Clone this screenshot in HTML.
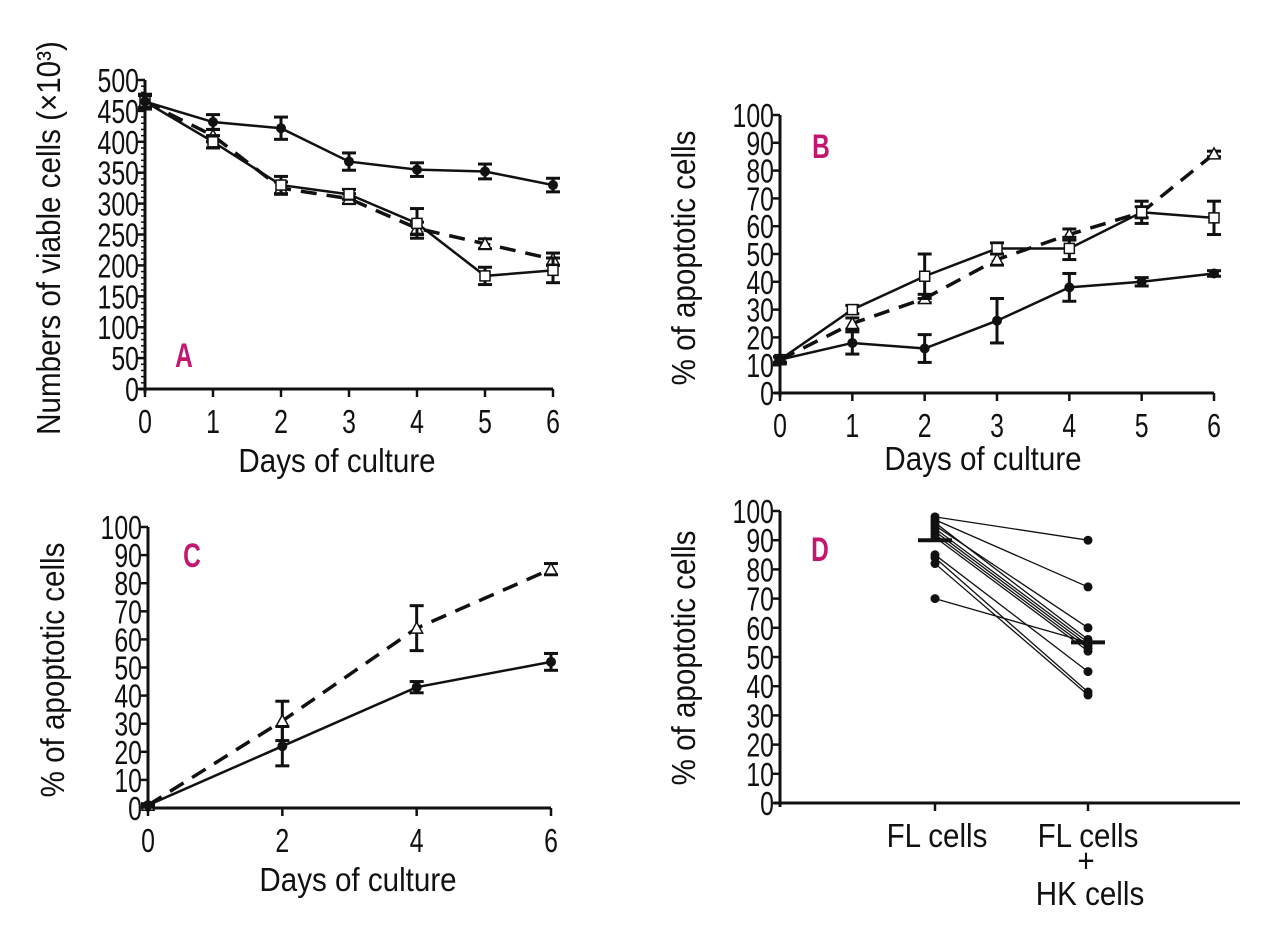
<!DOCTYPE html>
<html><head><meta charset="utf-8"><style>
html,body{margin:0;padding:0;background:#fff;}
svg{display:block;}
text{font-family:"Liberation Sans Narrow","Liberation Sans",sans-serif;fill:#111;}
.tick{font-size:27px;}
.title{font-size:30.5px;}
.letter{font-family:"Liberation Sans",sans-serif;font-weight:bold;font-size:34px;fill:#c2166f;}
</style></head><body>
<svg id="fig" width="1280" height="925" viewBox="0 0 1280 925" xmlns="http://www.w3.org/2000/svg"></svg>
<script>
// Panel A data
const daysA = [0,1,2,3,4,5,6];
const aCircle = [465,432,422,368,355,352,330];
const aCircleErr = [12,12,18,14,11,12,11];
const aSquare = [465,400,330,315,268,183,192];
const aSquareErr = [10,10,14,8,24,14,20];
const aTri = [465,410,325,308,260,235,210];
const aTriErr = [10,10,10,8,10,8,10];
const aTicks = [0,50,100,150,200,250,300,350,400,450,500];
// Panel B data
const daysB = [0,1,2,3,4,5,6];
const bCircle = [12,18,16,26,38,40,43];
const bCircleErr = [1,4,5,8,5,1.5,1];
const bSquare = [12,30,42,52,52,65,63];
const bSquareErr = [1,1.5,8,2,4,4,6];
const bTri = [12,25,34,48,57,65,86];
const bTriErr = [1,2,1.5,2,2,2,1];
// Panel C data
const daysC = [0,2,4,6];
const cCircle = [1,22,43,52];
const cCircleErr = [0.5,7,2,3];
const cTri = [1,31,64,85];
const cTriErr = [0.5,7,8,2];
const pctTicks = [0,10,20,30,40,50,60,70,80,90,100];
// Panel D data
const dGroups = ["FL cells","FL cells + HK cells"];
const dFL = [98,97,96,95,94,93,92,91,85,84,82,70];
const dHK = [90,74,56,60,55,54,53,52,45,38,37,55];
const dMeans = [90,55];

const NS="http://www.w3.org/2000/svg";
const svg=document.getElementById('fig');
const SCALE={tick:[0.92,1.25],title:[0.97,1.08],letter:[0.72,1.0]};
function el(tag,attrs,parent){const e=document.createElementNS(NS,tag);for(const k in attrs)e.setAttribute(k,attrs[k]);(parent||svg).appendChild(e);return e;}
function txt(parent,x,y,anchor,str,cls,name,rot){
  const s=SCALE[cls];
  const tr=`translate(${x} ${y})`+(rot?' rotate(-90)':'')+` scale(${s[0]} ${s[1]})`;
  const t=el('text',{x:0,y:0,'text-anchor':anchor,class:cls,transform:tr},parent);
  
  
  t.textContent=str;return t;
}

function axes(p){
  const g=el('g',{});
  
  
  const sx=v=>p.x0+(v-p.xmin)/(p.xmax-p.xmin)*(p.x1-p.x0);
  const sy=v=>p.y0-(v-p.ymin)/(p.ymax-p.ymin)*(p.y0-p.y1);
  const ya=el('line',{x1:p.x0,y1:p.y0+4,x2:p.x0,y2:p.y1,stroke:'#111','stroke-width':3},g);
  
  const xa=el('line',{x1:p.x0-6,y1:p.y0,x2:p.xEnd||p.x1,y2:p.y0,stroke:'#111','stroke-width':3},g);
  
  p.yticks.forEach(v=>{
    el('line',{x1:p.x0-7,y1:sy(v),x2:p.x0,y2:sy(v),stroke:'#111','stroke-width':2.5},g);
    txt(g,p.x0-6,sy(v)+12,'end',String(v),'tick','y-tick-label');
  });
  if(p.minor){for(let v=p.ymin;v<=p.ymax;v+=p.minor){el('line',{x1:p.x0-4,y1:sy(v),x2:p.x0,y2:sy(v),stroke:'#111','stroke-width':1.5},g);}}
  (p.xticks||[]).forEach(v=>{
    el('line',{x1:sx(v),y1:p.y0,x2:sx(v),y2:p.y0+8,stroke:'#111','stroke-width':2.5},g);
    txt(g,sx(v),p.y0+44,'middle',String(v),'tick','x-tick-label');
  });
  return {g,sx,sy};
}
function series(ax,xs,ys,errs,marker,dashed,name){
  const g=el('g',{},ax.g);
  
  const pts=xs.map((x,i)=>ax.sx(x)+','+ax.sy(ys[i])).join(' ');
  const pl=el('polyline',{points:pts,fill:'none',stroke:'#111','stroke-width':dashed?3.5:2.5,'stroke-dasharray':dashed?'16 10':'none'},g);
  
  xs.forEach((x,i)=>{
    const cx=ax.sx(x),cy=ax.sy(ys[i]);
    if(errs){const e=errs[i];const ya=ax.sy(ys[i]+e),yb=ax.sy(ys[i]-e);
      el('line',{x1:cx,y1:ya,x2:cx,y2:yb,stroke:'#111','stroke-width':3},g);
      el('line',{x1:cx-7,y1:ya,x2:cx+7,y2:ya,stroke:'#111','stroke-width':3},g);
      el('line',{x1:cx-7,y1:yb,x2:cx+7,y2:yb,stroke:'#111','stroke-width':3},g);}
    let m;
    if(marker==='circle')m=el('circle',{cx,cy,r:5,fill:'#111'},g);
    else if(marker==='square')m=el('rect',{x:cx-5,y:cy-5,width:10,height:10,fill:'#fff',stroke:'#111','stroke-width':1.5},g);
    else m=el('polygon',{points:`${cx},${cy-6} ${cx-6},${cy+5} ${cx+6},${cy+5}`,fill:'#fff',stroke:'#111','stroke-width':1.5},g);
    
  });
}
function label(x,y,s,cls,name,rot){return txt(svg,x,y,'middle',s,cls,name,rot);}

// Panel A
const A=axes({name:'panel-a',x0:145,x1:553,y0:389,y1:80,xmin:0,xmax:6,ymin:0,ymax:500,yticks:aTicks,xticks:daysA,minor:10});
series(A,daysA,aTri,aTriErr,'tri',true,'a-triangle-series');
series(A,daysA,aSquare,aSquareErr,'square',false,'a-square-series');
series(A,daysA,aCircle,aCircleErr,'circle',false,'a-circle-series');
label(337,472,'Days of culture','title','a-x-axis-title');
label(60,238,'Numbers of viable cells (×10³)','title','a-y-axis-title',true);
label(184,367,'A','letter','panel-a-letter');

// Panel B
const B=axes({name:'panel-b',x0:780,x1:1214,y0:393,y1:115,xmin:0,xmax:6,ymin:0,ymax:100,yticks:pctTicks,xticks:daysB});
series(B,daysB,bTri,bTriErr,'tri',true,'b-triangle-series');
series(B,daysB,bSquare,bSquareErr,'square',false,'b-square-series');
series(B,daysB,bCircle,bCircleErr,'circle',false,'b-circle-series');
label(983,470,'Days of culture','title','b-x-axis-title');
label(695,258,'% of apoptotic cells','title','b-y-axis-title',true);
label(821,158,'B','letter','panel-b-letter');

// Panel C
const C=axes({name:'panel-c',x0:148,x1:551,y0:808,y1:527,xmin:0,xmax:6,ymin:0,ymax:100,yticks:pctTicks,xticks:daysC});
series(C,daysC,cTri,cTriErr,'tri',true,'c-triangle-series');
series(C,daysC,cCircle,cCircleErr,'circle',false,'c-circle-series');
label(358,891,'Days of culture','title','c-x-axis-title');
label(64,670,'% of apoptotic cells','title','c-y-axis-title',true);
label(192,567,'C','letter','panel-c-letter');

// Panel D
const D=axes({name:'panel-d',x0:780,x1:1240,xEnd:1240,y0:803,y1:511,xmin:0,xmax:1,ymin:0,ymax:100,yticks:pctTicks,xticks:[]});
const dx=[935,1088];
dx.forEach(x=>el('line',{x1:x,y1:803,x2:x,y2:811,stroke:'#111','stroke-width':2.5},D.g));
const gd=el('g',{},D.g);

dFL.forEach((v,i)=>{
  el('line',{x1:dx[0],y1:D.sy(v),x2:dx[1],y2:D.sy(dHK[i]),stroke:'#111','stroke-width':1.3},gd);
  const a=el('circle',{cx:dx[0],cy:D.sy(v),r:4.5,fill:'#111'},gd);
  
  const b=el('circle',{cx:dx[1],cy:D.sy(dHK[i]),r:4.5,fill:'#111'},gd);
  
});
dMeans.forEach((m,i)=>{
  const l=el('line',{x1:dx[i]-17,y1:D.sy(m),x2:dx[i]+17,y2:D.sy(m),stroke:'#111','stroke-width':4},D.g);
  
});
label(937,847,'FL cells','title','d-category-fl');
label(1088,847,'FL cells','title','d-category-fl-hk');
label(1086,872,'+','title','d-category-plus');
label(1090,905,'HK cells','title','d-category-hk');
label(695,658,'% of apoptotic cells','title','d-y-axis-title',true);
label(820,561,'D','letter','panel-d-letter');
</script>
</body></html>
